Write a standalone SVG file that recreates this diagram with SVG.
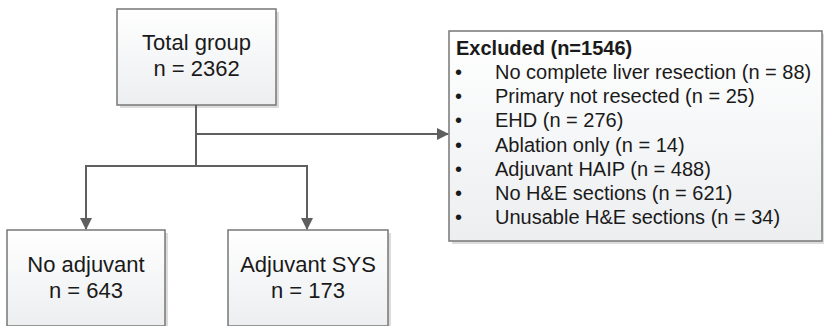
<svg xmlns="http://www.w3.org/2000/svg" width="824" height="326" viewBox="0 0 824 326">
<defs>
<linearGradient id="fill" x1="0" y1="0" x2="0" y2="1">
<stop offset="0" stop-color="#ffffff"/>
<stop offset="1" stop-color="#eceef0"/>
</linearGradient>
<marker id="arr" markerWidth="12" markerHeight="12" refX="11" refY="6" orient="auto" markerUnits="userSpaceOnUse">
<path d="M0,0 L12,6 L0,12 Z" fill="#5f5f5f"/>
</marker>
<style>
.box{fill:url(#fill);stroke:#777777;stroke-width:1.5}
.shadow{fill:#dcdcdc}
.t{font-family:"Liberation Sans",Arial,sans-serif;font-size:22px;fill:#1a1a1a;text-anchor:middle}
.e{font-family:"Liberation Sans",Arial,sans-serif;font-size:20px;fill:#1a1a1a}
.b{font-weight:bold}
.c{fill:none;stroke:#5f5f5f;stroke-width:2}
</style>
</defs>
<g id="total">
<rect class="shadow" x="120" y="12" width="159" height="96"/>
<rect class="box" x="117" y="9" width="159" height="96"/>
<text class="t" x="196.5" y="50">Total group</text>
<text class="t" x="196.5" y="76">n = 2362</text>
</g>
<g id="excluded">
<rect class="shadow" x="452" y="34" width="372" height="210"/>
<rect class="box" x="449" y="31" width="373" height="210"/>
<text class="e b" x="456" y="55">Excluded (n=1546)</text>
<g class="e">
<text x="455" y="79">•</text><text x="495" y="79">No complete liver resection (n = 88)</text>
<text x="455" y="103">•</text><text x="495" y="103">Primary not resected (n = 25)</text>
<text x="455" y="127">•</text><text x="495" y="127">EHD (n = 276)</text>
<text x="455" y="151.5">•</text><text x="495" y="151.5">Ablation only (n = 14)</text>
<text x="455" y="175.5">•</text><text x="495" y="175.5">Adjuvant HAIP (n = 488)</text>
<text x="455" y="200">•</text><text x="495" y="200">No H&amp;E sections (n = 621)</text>
<text x="455" y="224">•</text><text x="495" y="224">Unusable H&amp;E sections (n = 34)</text>
</g>
</g>
<g id="noadj">
<rect class="shadow" x="10" y="233" width="158" height="96"/>
<rect class="box" x="7" y="230" width="158" height="96"/>
<text class="t" x="86" y="272">No adjuvant</text>
<text class="t" x="86" y="298">n = 643</text>
</g>
<g id="adjsys">
<rect class="shadow" x="231" y="233" width="160" height="96"/>
<rect class="box" x="228" y="230" width="160" height="96"/>
<text class="t" x="308" y="272">Adjuvant SYS</text>
<text class="t" x="308" y="298">n = 173</text>
</g>
<g id="connectors">
<path class="c" d="M196,105 V166"/>
<path class="c" d="M196,134 H448" marker-end="url(#arr)"/>
<path class="c" d="M196,166 H86 V229" marker-end="url(#arr)"/>
<path class="c" d="M196,166 H307 V229" marker-end="url(#arr)"/>
</g>
</svg>
